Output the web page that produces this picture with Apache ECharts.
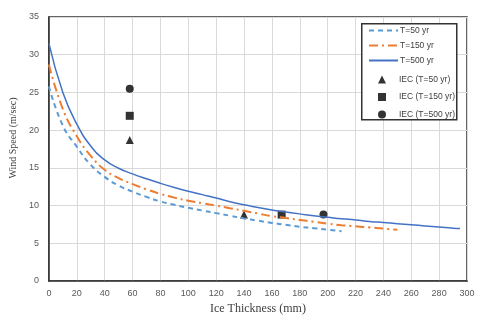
<!DOCTYPE html>
<html>
<head>
<meta charset="utf-8">
<script src="https://cdn.jsdelivr.net/npm/echarts@6/dist/echarts.min.js"></script>
<style>
  html, body {margin: 0; padding: 0; background: #fff;}
  #chart {width: 481px; height: 325px;}
</style>
</head>
<body>
<div id="chart"></div>
<script>
// curve samples (ice thickness mm -> wind speed m/s)
const x50 = [0, 10, 20, 30, 40, 50, 60, 70, 80, 90, 100, 110, 120, 130, 140, 150, 160, 170, 180, 190, 200, 210];
const v50 = [25.8, 20.6, 17.8, 15.4, 13.8, 12.65, 11.85, 11.15, 10.55, 10.1, 9.7, 9.35, 9.0, 8.65, 8.3, 8.0, 7.7, 7.45, 7.2, 7.0, 6.8, 6.6];

const x150 = [0, 10, 20, 30, 40, 50, 60, 70, 80, 90, 100, 110, 120, 130, 140, 150, 160, 170, 180, 190, 200, 210, 220, 230, 240, 250];
const v150 = [28.7, 22.8, 19.2, 16.6, 14.75, 13.65, 12.85, 12.15, 11.55, 11.05, 10.65, 10.3, 10.0, 9.65, 9.3, 8.95, 8.6, 8.35, 8.1, 7.85, 7.6, 7.4, 7.25, 7.1, 6.95, 6.8];

const x500 = [0, 10, 20, 30, 40, 50, 60, 70, 80, 90, 100, 110, 120, 130, 140, 150, 160, 170, 180, 190, 200, 210, 220, 230, 240, 250, 260, 270, 280, 290, 295];
const v500 = [31.5, 25.0, 20.8, 17.9, 16.05, 14.95, 14.2, 13.55, 12.95, 12.4, 11.9, 11.45, 11.0, 10.5, 10.1, 9.75, 9.4, 9.15, 8.9, 8.65, 8.45, 8.25, 8.1, 7.9, 7.75, 7.6, 7.45, 7.3, 7.15, 7.0, 6.95];

// IEC points
const iecX50 = [58, 140];
const iecV50 = [18.7, 8.8];
const iecX150 = [58, 167];
const iecV150 = [21.9, 8.8];
const iecX500 = [58, 197];
const iecV500 = [25.5, 8.8];

const lineNames = ['T=50 yr', 'T=150 yr', 'T=500 yr'];
const iecNames = ['IEC (T=50 yr)', 'IEC (T=150 yr)', 'IEC (T=500 yr)'];

const pairs = (xs, vs) => xs.map((x, i) => [x, vs[i]]);

const chart = echarts.init(document.getElementById('chart'));
const labelFont = {color: '#595959', fontSize: 9, fontFamily: 'Liberation Sans'};
const legendText = {fontSize: 8.5, color: '#404040', fontFamily: 'Liberation Sans'};

chart.setOption({
  animation: false,
  grid: {
    left: 47, right: 14, top: 17, bottom: 44,
    show: true, borderColor: '#333', borderWidth: 1.5
  },
  // legend frame
  graphic: [{
    type: 'rect', left: 361, top: 23, z: 5,
    shape: {width: 95, height: 96},
    style: {fill: '#fff', stroke: '#333', lineWidth: 1.5}
  }],
  xAxis: {
    type: 'value', min: 0, max: 300, interval: 20,
    name: 'Ice Thickness (mm)', nameLocation: 'middle', nameGap: 21,
    nameTextStyle: {fontFamily: 'Liberation Serif', fontSize: 12, color: '#404040'},
    axisLine: {show: true, lineStyle: {color: '#333', width: 1.5}},
    axisTick: {show: false},
    axisLabel: {...labelFont, margin: 8},
    splitLine: {lineStyle: {color: '#d9d9d9', width: 1}}
  },
  yAxis: {
    type: 'value', min: 0, max: 35, interval: 5,
    name: 'Wind Speed (m/sec)', nameLocation: 'middle', nameGap: 22,
    nameTextStyle: {fontFamily: 'Liberation Serif', fontSize: 10, color: '#404040', padding: [0, 0, 0, 22]},
    axisLine: {show: true, lineStyle: {color: '#333', width: 1.5}},
    axisTick: {show: false},
    axisLabel: {...labelFont, margin: 10},
    splitLine: {lineStyle: {color: '#d9d9d9', width: 1}}
  },
  legend: [
    {
      orient: 'vertical', left: 363, top: 26, padding: [0, 0, 0, 5], z: 6,
      itemWidth: 29, itemHeight: 10, itemGap: 6,
      textStyle: {...legendText, padding: [0, 0, 0, -3]},
      data: lineNames.map(n => ({name: n, itemStyle: {opacity: 0}}))
    },
    {
      orient: 'vertical', left: 378, top: 75, padding: 0, z: 6,
      itemWidth: 8, itemHeight: 8, itemGap: 8.5,
      textStyle: {...legendText, padding: [0, 0, 0, 8]},
      data: iecNames
    }
  ],
  series: [
    {
      name: lineNames[0], type: 'line', smooth: 0.5, symbol: 'none',
      data: pairs(x50, v50),
      lineStyle: {color: '#5b9bd5', width: 2, type: [5, 4]},
      itemStyle: {color: '#5b9bd5'}
    },
    {
      name: lineNames[1], type: 'line', smooth: 0.5, symbol: 'none',
      data: pairs(x150, v150),
      lineStyle: {color: '#ed7d31', width: 2, type: [9, 4, 2, 4]},
      itemStyle: {color: '#ed7d31'}
    },
    {
      name: lineNames[2], type: 'line', smooth: 0.5, symbol: 'none',
      data: pairs(x500, v500),
      lineStyle: {color: '#4472c4', width: 1.5},
      itemStyle: {color: '#4472c4'}
    },
    {
      name: iecNames[0], type: 'scatter', symbol: 'triangle', symbolSize: 8,
      data: pairs(iecX50, iecV50), itemStyle: {color: '#000'}
    },
    {
      name: iecNames[1], type: 'scatter', symbol: 'rect', symbolSize: 8,
      data: pairs(iecX150, iecV150), itemStyle: {color: '#000'}
    },
    {
      name: iecNames[2], type: 'scatter', symbol: 'circle', symbolSize: 8,
      data: pairs(iecX500, iecV500), itemStyle: {color: '#000'}
    }
  ]
});
</script>
</body>
</html>
